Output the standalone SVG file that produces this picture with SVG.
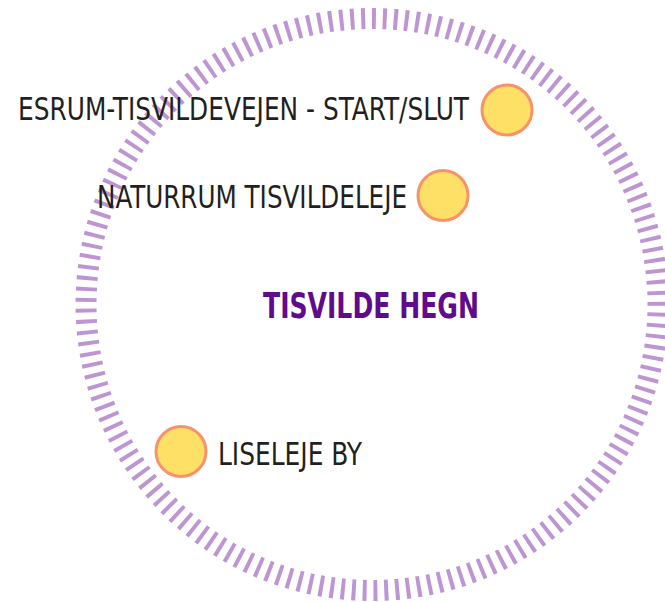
<svg xmlns="http://www.w3.org/2000/svg" width="665" height="602" viewBox="0 0 665 602">
<style>
.ring{fill:none;stroke:#bd95d2;stroke-width:21;stroke-dasharray:4 7}
.dot{fill:#ffe066;stroke:#f7926a;stroke-width:3}
.lbl{font-family:"Liberation Sans Narrow","DejaVu Sans Condensed","Liberation Sans",sans-serif;font-stretch:condensed;font-size:32px;fill:#231f20}
.title{font-family:"Liberation Sans Narrow","DejaVu Sans Condensed","Liberation Sans",sans-serif;font-stretch:condensed;font-size:36px;font-weight:bold;fill:#600a8c}
</style>
<rect width="665" height="602" fill="#ffffff"/>
<g id="ring">
<circle class="ring" cx="372" cy="304.5" r="286" pathLength="1815" transform="rotate(-90 372 304.5)"/>
</g>
<g id="title">
<text class="title" x="263" y="318" textLength="216" lengthAdjust="spacingAndGlyphs">TISVILDE HEGN</text>
</g>
<g id="node-esrum">
<circle class="dot" cx="507" cy="110" r="25"/>
<text class="lbl" x="18" y="120" textLength="451" lengthAdjust="spacingAndGlyphs">ESRUM-TISVILDEVEJEN - START/SLUT</text>
</g>
<g id="node-naturrum">
<circle class="dot" cx="443" cy="195.5" r="25"/>
<text class="lbl" x="97" y="207.5" textLength="310" lengthAdjust="spacingAndGlyphs">NATURRUM TISVILDELEJE</text>
</g>
<g id="node-liseleje">
<circle class="dot" cx="181" cy="451.5" r="25"/>
<text class="lbl" x="218" y="464.5" textLength="144" lengthAdjust="spacingAndGlyphs">LISELEJE BY</text>
</g>
<g id="connectors"/>
</svg>
